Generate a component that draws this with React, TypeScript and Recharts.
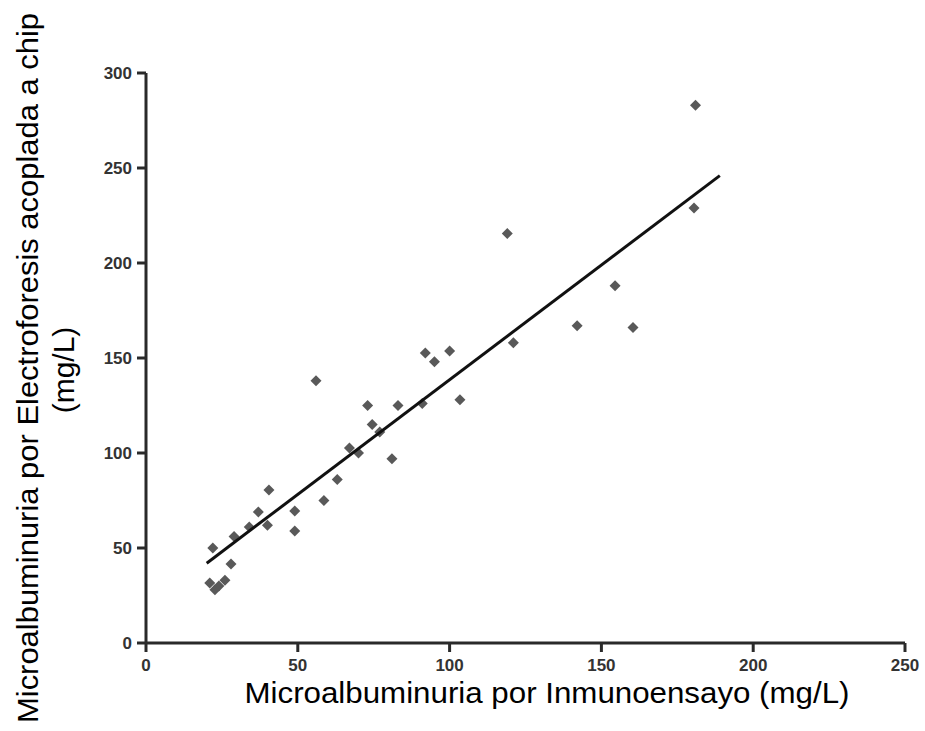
import React from "react";
import { ComposedChart, Scatter, XAxis, YAxis } from "recharts";

const inmuno = [181, 180.5, 119, 154.5, 142, 160.4, 121, 100, 92, 95, 103.4, 56, 73, 83, 91, 74.5, 77, 67, 70, 81, 63, 58.6, 40.5, 49, 49, 37, 40, 34, 29, 22, 28, 26, 21, 22.7, 24];
const electro = [283, 229, 215.5, 188, 167, 166, 158, 153.7, 152.6, 148, 128, 138, 125, 125, 126, 115, 111, 102.6, 100, 97, 86, 75, 80.5, 69.5, 59, 69, 62, 61, 56, 50, 41.6, 33, 31.6, 28, 30];

const fitX = [20, 189];
const fitY = [42, 246];

const xTicks = [0, 50, 100, 150, 200, 250];
const yTicks = [0, 50, 100, 150, 200, 250, 300];

const points = inmuno.map((x, i) => ({ x, y: electro[i] }));
const fitLine = fitX.map((x, i) => ({ x, y: fitY[i] }));

const Diamond = (props: any) => {
  const { cx, cy } = props;
  const r = 5.5;
  return (
    <polygon
      points={`${cx},${cy - r} ${cx + r},${cy} ${cx},${cy + r} ${cx - r},${cy}`}
      fill="#595959"
    />
  );
};

const tickFont = "Liberation Sans, Arial, sans-serif";
const labelFont = "Liberation Sans, Arial, sans-serif";

// x ticks: baseline put just under the tick marks
const XTick = (props: any) => {
  const { x, payload } = props;
  return (
    <text x={x} y={671} textAnchor="middle" fontFamily={tickFont} fontWeight={700} fontSize={17} fill="#333">
      {payload.value}
    </text>
  );
};

const YTick = (props: any) => {
  const { y, payload } = props;
  return (
    <text x={132} y={y + 6} textAnchor="end" fontFamily={tickFont} fontWeight={700} fontSize={17} fill="#333">
      {payload.value}
    </text>
  );
};

export default function App() {
  return (
    <div style={{ position: "absolute", left: 0, top: 0, width: 925, height: 731, background: "#fff" }}>
      <ComposedChart width={925} height={731} margin={{ top: 73, right: 20, bottom: 58, left: 106 }}>
        <XAxis
          type="number"
          dataKey="x"
          domain={[0, 250]}
          ticks={xTicks}
          height={30}
          stroke="#2a2a2a"
          strokeWidth={3}
          tickSize={9}
          tick={<XTick />}
          tickLine={{ stroke: "#2a2a2a", strokeWidth: 3 }}
        />
        <YAxis
          type="number"
          dataKey="y"
          domain={[0, 300]}
          ticks={yTicks}
          width={40}
          stroke="#2a2a2a"
          strokeWidth={3}
          tickSize={9}
          tick={<YTick />}
          tickLine={{ stroke: "#2a2a2a", strokeWidth: 3 }}
        />
        <Scatter data={points} shape={Diamond} isAnimationActive={false} />
        <Scatter
          data={fitLine}
          line={{ stroke: "#111", strokeWidth: 3 }}
          shape={() => null}
          isAnimationActive={false}
        />
        <text
          x={547}
          y={703}
          textAnchor="middle"
          fontFamily={labelFont}
          fontSize={30}
          textLength={605}
          lengthAdjust="spacingAndGlyphs"
          fill="#000"
        >
          Microalbuminuria por Inmunoensayo (mg/L)
        </text>
        <text
          transform="translate(38,368) rotate(-90)"
          textAnchor="middle"
          fontFamily={labelFont}
          fontSize={30}
          textLength={710}
          lengthAdjust="spacingAndGlyphs"
          fill="#000"
        >
          Microalbuminuria por Electroforesis acoplada a chip
        </text>
        <text
          transform="translate(74,370) rotate(-90)"
          textAnchor="middle"
          fontFamily={labelFont}
          fontSize={30}
          fill="#000"
        >
          (mg/L)
        </text>
      </ComposedChart>
    </div>
  );
}
